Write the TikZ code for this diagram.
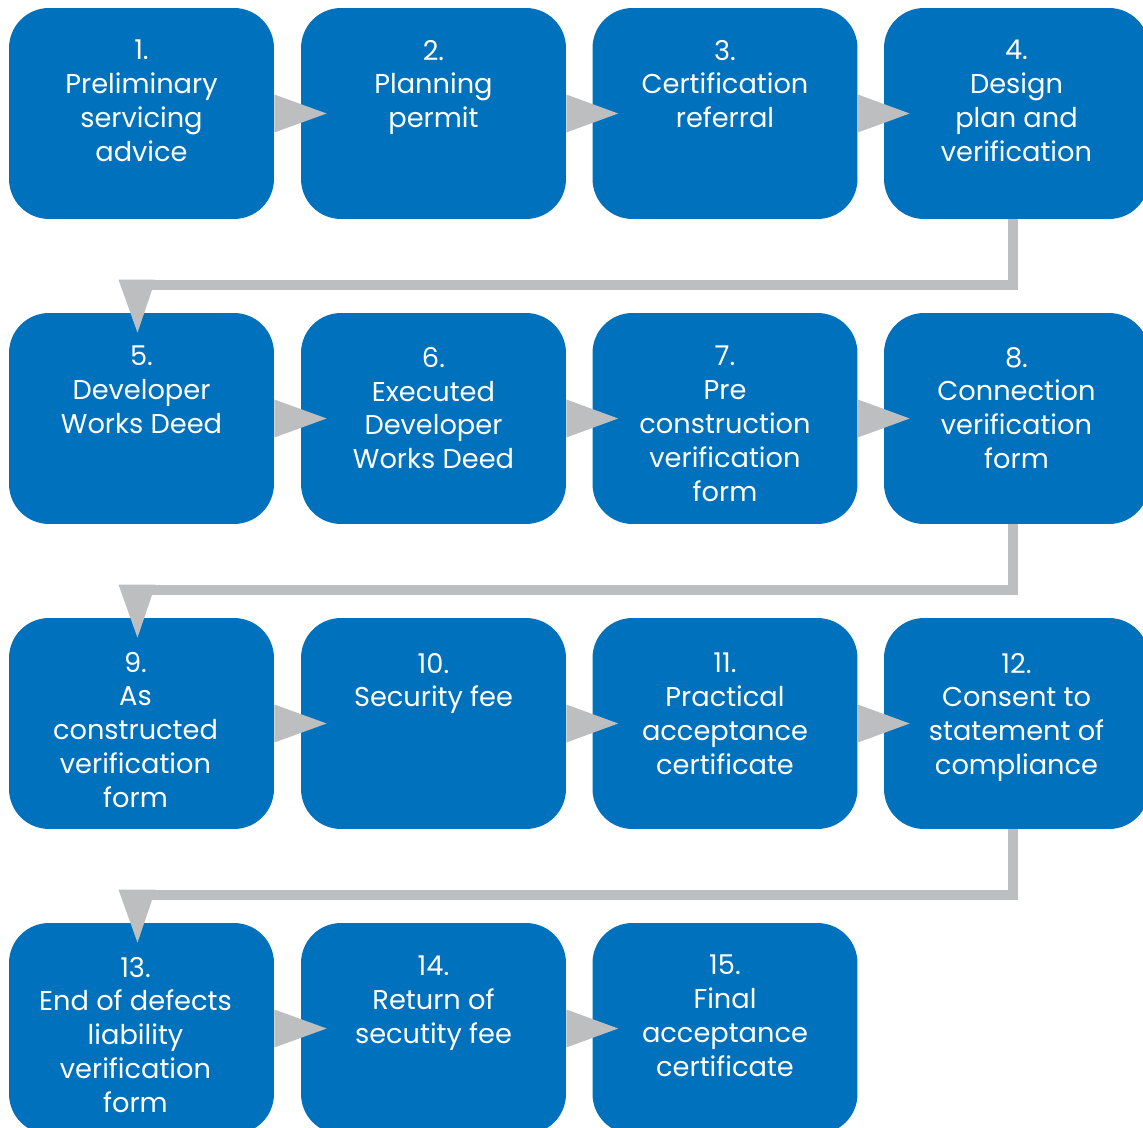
\documentclass[tikz,border=0pt]{standalone}
\usepackage{fontspec}
\setmainfont{Poppins}
\usetikzlibrary{calc}
\definecolor{stepblue}{HTML}{0071BC}
\definecolor{linkgray}{HTML}{BCBEC0}
\tikzset{
  box/.style={fill=stepblue, rounded corners=0.8cm, minimum width=5.3cm, minimum height=4.22cm, inner sep=0pt},
  txt/.style={anchor=north, align=center, text=white, inner sep=0pt, font=\fontsize{15.5}{19.3}\selectfont},
  link/.style={draw=linkgray, line width=0.2cm, line join=miter},
}
\newcommand{\hlink}[2]{\fill[linkgray] ($(#1.east)+(0,-19)$) -- ($(#1.east)+(0,19)$) -- ($(#2.west)+(26,0)$) -- cycle;}
\newcommand{\dlink}[2]{\draw[link] ($(#1.south)+(-4,0)$) |- ($(#2.north)+(-4,-28)$);
  \fill[linkgray] ($(#2.north)+(-23,-33)$) -- ($(#2.north)+(14,-33)$) -- ($(#2.north)+(-4,20)$) -- cycle;}
\begin{document}
\begin{tikzpicture}[x=0.02cm, y=-0.02cm]
\useasboundingbox (0,0) rectangle (1143,1128);
\node[box] (b1) at (141.5,113.5) {}; \node[txt] (t1) at ([yshift=-0.64cm]b1.north) {1.\\Preliminary\\servicing\\advice};
\node[box] (b2) at (433.5,113.5) {}; \node[txt] (t2) at ([yshift=-0.64cm]b2.north) {2.\\Planning\\permit};
\node[box] (b3) at (725,113.5) {}; \node[txt] (t3) at ([yshift=-0.64cm]b3.north) {3.\\Certification\\referral};
\node[box] (b4) at (1016.5,113.5) {}; \node[txt] (t4) at ([yshift=-0.64cm]b4.north) {4.\\Design\\plan and\\verification};
\node[box] (b5) at (141.5,418.5) {}; \node[txt] (t5) at ([yshift=-0.66cm]b5.north) {5.\\Developer\\Works Deed};
\node[box] (b6) at (433.5,418.5) {}; \node[txt] (t6) at ([yshift=-0.68cm]b6.north) {6.\\Executed\\Developer\\Works Deed};
\node[box] (b7) at (725,418.5) {}; \node[txt] (t7) at ([yshift=-0.66cm]b7.north) {7.\\Pre\\construction\\verification\\form};
\node[box] (b8) at (1016.5,418.5) {}; \node[txt] (t8) at ([yshift=-0.68cm]b8.north) {8.\\Connection\\verification\\form};
\node[box] (b9) at (141.5,723.5) {}; \node[txt] (t9) at ([xshift=-0.12cm, yshift=-0.68cm]b9.north) {9.\\As\\constructed\\verification\\form};
\node[box] (b10) at (433.5,723.5) {}; \node[txt] (t10) at ([yshift=-0.7cm]b10.north) {10.\\Security fee};
\node[box] (b11) at (725,723.5) {}; \node[txt] (t11) at ([yshift=-0.7cm]b11.north) {11.\\Practical\\acceptance\\certificate};
\node[box] (b12) at (1016.5,723.5) {}; \node[txt] (t12) at ([yshift=-0.7cm]b12.north) {12.\\Consent to\\statement of\\compliance};
\node[box] (b13) at (141.5,1028.5) {}; \node[txt] (t13) at ([xshift=-0.12cm, yshift=-0.68cm]b13.north) {13.\\End of defects\\liability\\verification\\form};
\node[box] (b14) at (433.5,1028.5) {}; \node[txt] (t14) at ([yshift=-0.66cm]b14.north) {14.\\Return of\\secutity fee};
\node[box] (b15) at (725,1028.5) {}; \node[txt] (t15) at ([yshift=-0.64cm]b15.north) {15.\\Final\\acceptance\\certificate};
\hlink{b1}{b2} \hlink{b2}{b3} \hlink{b3}{b4}
\dlink{b4}{b5}
\hlink{b5}{b6} \hlink{b6}{b7} \hlink{b7}{b8}
\dlink{b8}{b9}
\hlink{b9}{b10} \hlink{b10}{b11} \hlink{b11}{b12}
\dlink{b12}{b13}
\hlink{b13}{b14} \hlink{b14}{b15}
\end{tikzpicture}
\end{document}
